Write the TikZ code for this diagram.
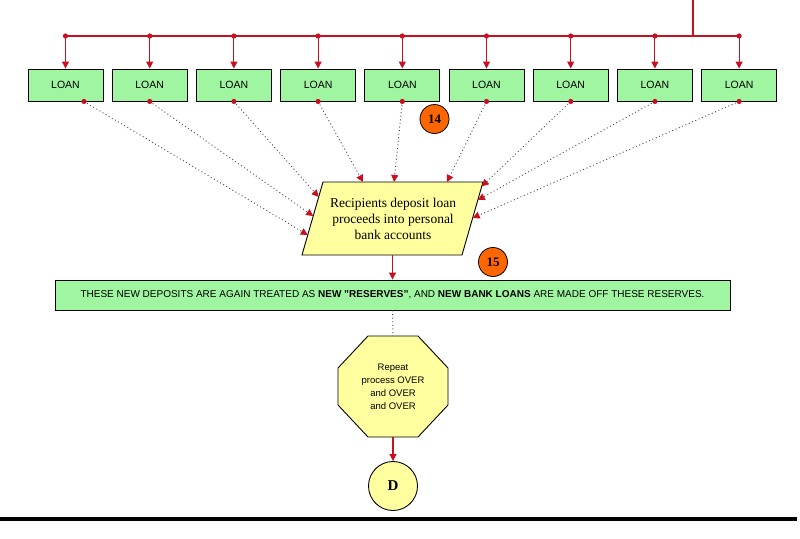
\documentclass[tikz,border=0pt]{standalone}
\usepackage{fontspec}
\setmainfont{Liberation Serif}
\setsansfont{Liberation Sans}
\usetikzlibrary{arrows.meta,calc}
\definecolor{loangreen}{RGB}{160,245,160}
\definecolor{paleyellow}{RGB}{255,255,160}
\definecolor{linkred}{RGB}{200,16,32}
\definecolor{badgeorange}{RGB}{255,102,0}
\tikzset{
  loanbox/.style={draw=black, line width=0.9pt, fill=loangreen, minimum width=75pt, minimum height=32pt, inner sep=0pt, font=\sffamily\fontsize{10.5}{12}\selectfont},
  redline/.style={draw=linkred, line width=1.1pt},
  redarrow/.style={redline, -{Triangle[length=7pt,width=7pt,color=linkred]}},
  reddot/.style={fill=linkred},
  dotlink/.style={draw=black!70, line width=0.9pt, dash pattern=on 1pt off 2.6pt, -{Triangle[length=7pt,width=7pt,color=linkred]}},
  badge/.style={circle, draw=black, line width=0.8pt, fill=badgeorange, minimum size=29pt, inner sep=0pt, font=\bfseries\fontsize{13}{15}\selectfont},
}
\begin{document}
\begin{tikzpicture}[x=1pt,y=-1pt]
\useasboundingbox (0,0) rectangle (800,538);
% LOAN boxes
\foreach \i in {1,...,9}{
  \node[loanbox] (L\i) at ({65.5+84.2*(\i-1)},85) {LOAN};
}
% top bus
\coordinate (src) at (693,0);
\coordinate (bus) at (693,36);
\draw[redline] (src) -- (bus);
\draw[redline] (L1.north |- bus) -- (L9.north |- bus);
\foreach \i in {1,...,9}{
  \draw[redarrow] (L\i.north |- bus) -- (L\i.north);
  \fill[reddot] (L\i.north |- bus) circle (2.6pt);
}
% parallelogram
\coordinate (pBL) at (302,255);
\coordinate (pTL) at (323,182);
\coordinate (pTR) at (483,182);
\coordinate (pBR) at (462,255);
\draw[line width=0.9pt, fill=paleyellow] (pBL) -- (pTL) -- (pTR) -- (pBR) -- cycle;
\node[align=center, font=\fontsize{13.5}{16}\selectfont, inner sep=0pt] (para) at (393,219) {Recipients deposit loan\\proceeds into personal\\bank accounts};
% target points on the parallelogram
\coordinate (t1) at ($(pBL)!0.274!(pTL)$);
\coordinate (t2) at ($(pBL)!0.534!(pTL)$);
\coordinate (t3) at ($(pBL)!0.795!(pTL)$);
\coordinate (t4) at ($(pTL)!0.25!(pTR)$);
\coordinate (t5) at ($(pTL)!0.444!(pTR)$);
\coordinate (t6) at ($(pTL)!0.775!(pTR)$);
\coordinate (t7) at ($(pBR)!0.94!(pTR)$);
\coordinate (t8) at ($(pBR)!0.753!(pTR)$);
\coordinate (t9) at ($(pBR)!0.507!(pTR)$);
% dotted links from the loans
\coordinate (s1) at ($(L1.south)+(18.5,0)$);
\foreach \i in {2,...,9}{ \coordinate (s\i) at (L\i.south); }
\foreach \i in {1,...,9}{
  \draw[dotlink] (s\i) -- (t\i);
  \fill[reddot] (s\i) circle (2.6pt);
}
% badges
\node[badge] (b14) at (434.5,119) {14};
\node[badge] (b15) at (493,262) {15};
% green band
\node[draw=black, line width=0.9pt, fill=loangreen, minimum width=675pt, minimum height=30pt, inner sep=0pt, font=\sffamily\fontsize{10}{12}\selectfont] (band) at (392.5,295)
  {THESE NEW DEPOSITS ARE AGAIN TREATED AS \textbf{NEW "RESERVES"}, AND \textbf{NEW BANK LOANS} ARE MADE OFF THESE RESERVES.};
\draw[redarrow] (band.north |- pBL) -- (band.north);
% octagon
\coordinate (oT) at (393,336);
\coordinate (oB) at (393,437);
\draw[line width=0.9pt, fill=paleyellow]
  (368,336) -- (418,336) -- (448,368) -- (448,405) -- (418,437) -- (368,437) -- (338,405) -- (338,368) -- cycle;
\node[align=center, inner sep=0pt, font=\sffamily\fontsize{9.5}{13}\selectfont] (oct) at (393,386.5) {Repeat\\process OVER\\and OVER\\and OVER};
\draw[draw=black!70, line width=0.9pt, dash pattern=on 1pt off 2.6pt] (band.south) -- (oT);
% D connector
\node[circle, draw=black, line width=0.9pt, fill=paleyellow, minimum size=49pt, inner sep=0pt, font=\bfseries\fontsize{15}{17}\selectfont] (D) at (393,486) {D};
\draw[redarrow] (oB) -- (D.north);
% bottom rule
\coordinate (ruleL) at (0,519);
\coordinate (ruleR) at (797,519);
\draw[line width=4pt] (ruleL) -- (ruleR);
\end{tikzpicture}
\end{document}
